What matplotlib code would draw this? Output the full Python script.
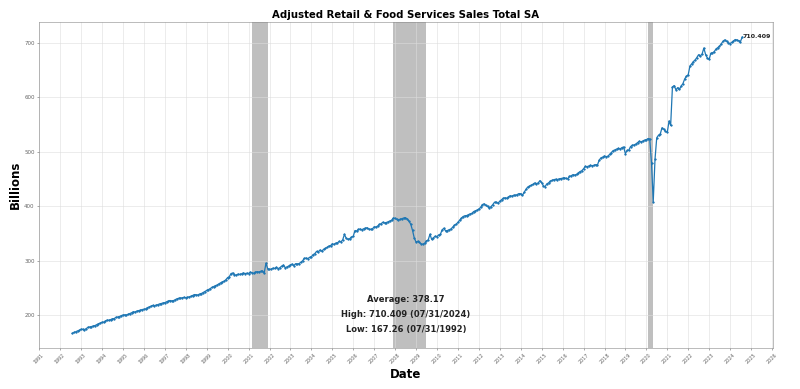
import matplotlib
matplotlib.use("Agg")
from matplotlib import pyplot as plt
import matplotlib.dates as mdates
import pandas as pd

# monthly sales, billions, Jul 1992 .. Jul 2024
sales = [
    167.26, 168.9, 170.1, 171.8, 172.6, 174.9,
    174.6, 174.0, 175.9, 178.3, 179.0, 179.6, 180.8, 181.5, 183.2, 184.9, 186.1, 187.6,
    187.9, 189.8, 191.6, 191.2, 192.4, 193.9, 194.3, 196.5, 197.1, 198.0, 199.6, 200.8,
    201.2, 200.7, 202.1, 203.4, 204.9, 206.8, 206.3, 208.1, 208.9, 209.6, 210.8, 211.3,
    212.0, 214.2, 215.6, 216.9, 218.3, 217.6, 218.9, 219.8, 221.2, 221.9, 223.0, 223.5,
    225.1, 226.3, 227.4, 226.8, 227.2, 228.9, 230.6, 231.5, 231.9, 232.4, 233.2, 232.6,
    233.4, 234.1, 235.2, 236.6, 238.3, 238.0, 237.6, 239.4, 240.2, 242.1, 243.9, 245.8,
    247.4, 249.1, 251.3, 252.8, 254.6, 255.7, 257.9, 259.8, 261.6, 262.9, 265.4, 269.3,
    271.2, 276.8, 277.9, 274.6, 274.0, 275.8, 275.1, 276.3, 277.9, 276.8, 277.4, 276.9,
    279.4, 278.5, 277.2, 279.6, 280.3, 279.8, 280.9, 281.4, 277.6, 295.8, 285.9, 284.3,
    285.0, 286.7, 286.1, 288.3, 285.9, 287.6, 290.4, 292.3, 287.8, 288.9, 290.6, 292.8,
    294.1, 291.3, 294.9, 294.2, 295.1, 297.4, 300.2, 304.6, 305.1, 304.3, 306.4, 307.5,
    311.6, 313.2, 317.4, 316.6, 319.9, 317.7, 321.2, 322.9, 324.6, 327.3, 327.9, 331.4,
    330.2, 332.6, 333.1, 335.8, 334.9, 338.5, 348.6, 341.5, 339.6, 340.8, 343.7, 344.9,
    355.7, 354.8, 357.6, 358.4, 357.2, 358.9, 360.1, 360.8, 358.4, 357.9, 358.6, 362.4,
    362.3, 363.7, 366.9, 368.1, 370.8, 369.5, 370.4, 371.6, 373.2, 374.5, 378.6, 377.9,
    376.3, 375.1, 376.4, 377.5, 378.6, 379.0, 376.8, 372.7, 367.2, 355.8, 342.1, 334.6,
    335.9, 333.8, 331.2, 330.6, 332.4, 336.8, 338.5, 348.9, 339.4, 342.6, 345.2, 344.7,
    347.8, 348.6, 356.9, 359.8, 354.9, 355.6, 357.2, 358.4, 361.7, 365.3, 367.4, 370.6,
    374.8, 378.2, 381.3, 382.7, 383.0, 384.6, 386.2, 386.9, 390.3, 391.8, 393.1, 395.2,
    398.0, 403.1, 404.6, 401.8, 399.9, 396.8, 399.5, 403.2, 407.6, 407.1, 405.9, 409.4,
    412.3, 414.6, 415.8, 414.9, 417.2, 419.5, 418.8, 420.4, 419.9, 421.6, 423.4, 423.2,
    420.1, 425.6, 430.9, 435.2, 436.8, 438.7, 440.2, 442.9, 441.5, 442.8, 447.0, 443.6,
    437.4, 436.2, 441.1, 443.0, 446.2, 447.5, 448.9, 449.6, 449.0, 450.3, 450.9, 451.6,
    452.4, 451.1, 450.6, 454.8, 456.2, 458.1, 457.4, 458.6, 461.3, 463.8, 465.2, 468.9,
    473.2, 472.6, 473.8, 475.1, 474.6, 475.2, 476.4, 475.9, 484.7, 488.9, 490.2, 492.3,
    491.1, 491.8, 495.4, 498.6, 502.1, 503.4, 505.0, 506.1, 505.2, 507.6, 508.9, 496.8,
    502.4, 502.9, 509.6, 511.8, 512.6, 514.1, 516.8, 519.2, 518.1, 519.7, 521.4, 522.0,
    524.3, 523.6, 479.5, 408.3, 486.2, 525.6, 530.4, 532.8, 543.9, 541.2, 537.8, 535.6,
    556.4, 548.3, 618.7, 621.4, 613.5, 617.6, 614.2, 620.8, 624.9, 633.6, 638.4, 641.2,
    657.3, 660.9, 665.4, 668.2, 672.8, 677.9, 675.6, 679.4, 690.1, 678.2, 672.0, 669.3,
    680.6, 681.2, 683.7, 688.4, 691.0, 693.5, 698.2, 702.6, 705.1, 702.3, 699.8, 698.4,
    700.6, 703.2, 705.8, 704.9, 703.4, 702.1, 710.409,
]
dates = pd.date_range("1992-07-31", periods=len(sales), freq="ME")

recessions = [("2001-03-01", "2001-11-30"), ("2007-12-01", "2009-06-30"), ("2020-02-01", "2020-04-30")]

stats_lines = ["Average: 378.17", "High: 710.409 (07/31/2024)", "Low: 167.26 (07/31/1992)"]

fig = plt.figure(figsize=(16, 7.78), dpi=50)
ax = fig.add_subplot(111)
plt.subplots_adjust(left=0.049, right=0.966, top=0.943, bottom=0.105)

for start, end in recessions:
    ax.axvspan(pd.Timestamp(start), pd.Timestamp(end), color="gray", alpha=0.5, lw=0)

ax.plot(dates, sales, color="#1f77b4", lw=1.8, marker="o", markersize=2.2)

ax.annotate(f"{sales[-1]}", (dates[-1], sales[-1]), xytext=(1, 0), textcoords="offset points",
            fontsize=9, fontweight="bold", va="center", ha="left", color="#222222")

ax.text(0.5, 0.042, "\n".join(stats_lines), transform=ax.transAxes, ha="center", va="bottom",
        fontsize=12, fontweight="bold", linespacing=1.9, color="#222222")

ax.set_xlim(pd.Timestamp("1991-01-01"), pd.Timestamp("2026-01-15"))
ax.xaxis.set_major_locator(mdates.YearLocator())
ax.xaxis.set_major_formatter(mdates.DateFormatter("%Y"))
plt.setp(ax.get_xticklabels(), rotation=45, fontsize=7, color="#444444")
plt.setp(ax.get_yticklabels(), fontsize=8, color="#444444")
ax.set_yticks([200, 300, 400, 500, 600, 700])

ax.grid(True, color="#dddddd", lw=0.8)
for s in ax.spines.values():
    s.set_color("#888888")
ax.tick_params(colors="#666666", length=3)

ax.set_title("Adjusted Retail & Food Services Sales Total SA", fontsize=14.5, fontweight="bold")
ax.set_xlabel("Date", fontsize=17, fontweight="bold")
ax.set_ylabel("Billions", fontsize=17, fontweight="bold")

plt.savefig("out.png", dpi=50)
